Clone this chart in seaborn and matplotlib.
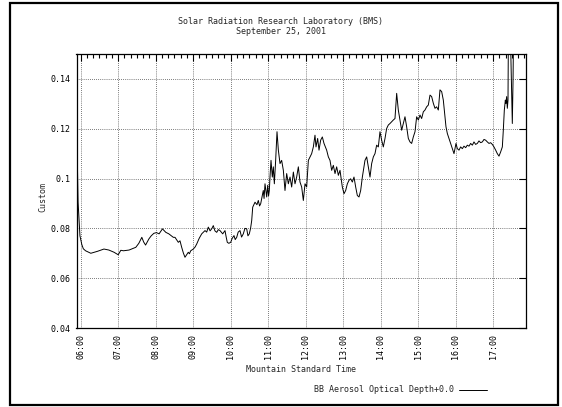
import numpy as np
import pandas as pd
import matplotlib
matplotlib.use("Agg")
import matplotlib.pyplot as plt
import seaborn as sns
from matplotlib.ticker import MultipleLocator, FixedLocator, FuncFormatter
from matplotlib.patches import Rectangle

# time in decimal hours (MST)
hours = [
    5.89, 5.895, 5.90, 5.905, 5.91, 5.915, 5.93, 5.98, 6.03, 6.07,
    6.13, 6.27, 6.45, 6.62, 6.75, 6.89, 7.00, 7.07, 7.14, 7.29,
    7.40, 7.47, 7.55, 7.63, 7.68, 7.73, 7.82, 7.88, 7.95, 8.02,
    8.09, 8.18, 8.27, 8.35, 8.47,
    8.515, 8.603, 8.648, 8.693, 8.74, 8.781, 8.83, 8.869, 8.90, 8.933,
    9.003, 9.05, 9.093, 9.16, 9.227, 9.315, 9.36, 9.403, 9.45, 9.493,
    9.536, 9.58, 9.627, 9.67, 9.715, 9.787, 9.848, 9.88, 9.909, 9.95,
    10.0, 10.04, 10.088, 10.12, 10.16, 10.2, 10.248, 10.29, 10.336, 10.38,
    10.427, 10.46, 10.496, 10.53, 10.56, 10.587, 10.648, 10.70, 10.736, 10.77,
    10.8, 10.84, 10.869, 10.89, 10.915, 10.96, 10.987, 11.01, 11.03, 11.048,
    11.075, 11.11, 11.137, 11.164, 11.199, 11.235, 11.271, 11.315, 11.359, 11.404,
    11.448, 11.493, 11.537, 11.582, 11.626, 11.671, 11.715, 11.759, 11.804, 11.848,
    11.893, 11.937, 11.982, 12.026, 12.071, 12.115, 12.159, 12.204, 12.248, 12.275,
    12.319, 12.355, 12.399, 12.444, 12.488, 12.559, 12.604, 12.648, 12.693, 12.737,
    12.782, 12.826, 12.871, 12.915, 12.977, 13.022, 13.066, 13.111, 13.155, 13.199,
    13.244, 13.288, 13.333, 13.377, 13.422, 13.466, 13.511,
    13.581, 13.626, 13.67, 13.715, 13.759, 13.804, 13.848, 13.892, 13.937, 13.981,
    14.026, 14.07, 14.115, 14.159, 14.204, 14.248, 14.292, 14.337, 14.381, 14.426,
    14.47, 14.515, 14.559, 14.604, 14.648, 14.692, 14.737, 14.781, 14.826, 14.87,
    14.915, 14.959, 15.004, 15.048, 15.092, 15.137, 15.181, 15.226, 15.27, 15.315,
    15.359, 15.404, 15.448, 15.492, 15.537, 15.581, 15.626, 15.67, 15.715, 15.741,
    15.777, 15.821, 15.866, 15.91, 15.955,
    16.008, 16.044, 16.088, 16.132, 16.177, 16.221, 16.266, 16.31, 16.355, 16.399,
    16.444, 16.488, 16.532, 16.577, 16.621, 16.666, 16.71, 16.755, 16.799, 16.844,
    16.888, 16.932, 16.977, 17.021, 17.066, 17.11, 17.155, 17.199, 17.244, 17.27,
    17.297, 17.324, 17.341, 17.359, 17.377, 17.395, 17.41, 17.45, 17.47, 17.51,
    17.53, 17.55,
]

# BB aerosol optical depth
aod = [
    0.160, 0.104, 0.160, 0.120, 0.160, 0.103, 0.0905, 0.0770, 0.0735, 0.0718,
    0.0710, 0.0700, 0.0708, 0.0717, 0.0713, 0.0704, 0.0694, 0.0712, 0.0710, 0.0713,
    0.0720, 0.0724, 0.0740, 0.0764, 0.0745, 0.0733, 0.0758, 0.0770, 0.0780, 0.0783,
    0.0778, 0.0798, 0.0784, 0.0778, 0.0764,
    0.0764, 0.0744, 0.0750, 0.0724, 0.0700, 0.0684, 0.0695, 0.0704, 0.0698, 0.0710,
    0.0717, 0.0725, 0.0737, 0.0760, 0.0778, 0.0791, 0.0785, 0.0805, 0.0790, 0.0798,
    0.0811, 0.0790, 0.0784, 0.0795, 0.0791, 0.0778, 0.0791, 0.0765, 0.0744, 0.0740,
    0.0744, 0.0760, 0.0771, 0.0755, 0.0764, 0.0785, 0.0791, 0.0765, 0.0778, 0.0800,
    0.0798, 0.0770, 0.0778, 0.0800, 0.0831, 0.0885, 0.0905, 0.0895, 0.0912, 0.0890,
    0.0899, 0.0930, 0.0952, 0.0920, 0.0979, 0.0926, 0.0973, 0.0930, 0.0952, 0.1006,
    0.1073, 0.1006, 0.1047, 0.0979, 0.1073, 0.1188, 0.1114, 0.1060, 0.1073, 0.1033,
    0.0952, 0.1020, 0.0979, 0.1006, 0.0966, 0.1026, 0.0979, 0.1006, 0.1047, 0.0986,
    0.0966, 0.0912, 0.0979, 0.0966, 0.1073, 0.1087, 0.1100, 0.1127, 0.1174, 0.1127,
    0.1161, 0.1114, 0.1154, 0.1167, 0.1141, 0.1114, 0.1087, 0.1073, 0.1033, 0.1053,
    0.1020, 0.1047, 0.1013, 0.1033, 0.0966, 0.0939, 0.0952, 0.0979, 0.0993, 0.0999,
    0.0986, 0.1006, 0.0966, 0.0932, 0.0926, 0.0952, 0.1006,
    0.1073, 0.1087, 0.1047, 0.1006, 0.1060, 0.1087, 0.1100, 0.1134, 0.1127, 0.1188,
    0.1154, 0.1127, 0.1161, 0.1201, 0.1215, 0.1221, 0.1228, 0.1235, 0.1241, 0.1342,
    0.1275, 0.1235, 0.1194, 0.1221, 0.1248, 0.1208, 0.1161, 0.1147, 0.1141, 0.1167,
    0.1188, 0.1248, 0.1235, 0.1255, 0.1241, 0.1268, 0.1275, 0.1288, 0.1295, 0.1335,
    0.1329, 0.1302, 0.1282, 0.1288, 0.1275, 0.1356, 0.1349, 0.1315, 0.1248, 0.1208,
    0.1181, 0.1161, 0.1141, 0.1120, 0.1100,
    0.1141, 0.1120, 0.1114, 0.1127, 0.1120, 0.1130, 0.1124, 0.1134, 0.1130, 0.1141,
    0.1134, 0.1147, 0.1137, 0.1141, 0.1151, 0.1144, 0.1147, 0.1157, 0.1154, 0.1147,
    0.1141, 0.1144, 0.1137, 0.1127, 0.1114, 0.1100, 0.1090, 0.1107, 0.1127, 0.1194,
    0.1275, 0.1315, 0.1302, 0.1329, 0.1282, 0.1315, 0.170, 0.170, 0.150, 0.1221,
    0.140, 0.170,
]

hour_ticks = list(range(6, 18))
hour_labels = ["%02d:00" % h for h in hour_ticks]
y_ticks = [0.04, 0.06, 0.08, 0.10, 0.12, 0.14]

df = pd.DataFrame({"hour": hours, "aod": aod})

sns.set_style("white")
plt.rcParams["font.family"] = ["DejaVu Sans Mono"]
plt.rcParams["font.size"] = 6

fig = plt.figure(figsize=(5.62, 4.07), dpi=100)
ax = fig.add_axes([76.5 / 562, 1 - 328 / 407, 449.5 / 562, 274 / 407])

sns.lineplot(data=df, x="hour", y="aod", ax=ax, color="black", lw=0.7,
             estimator=None, label="BB Aerosol Optical Depth+0.0")

ax.set_xlim(5.888, 17.875)
ax.set_ylim(0.04, 0.15)
ax.xaxis.set_major_locator(FixedLocator(hour_ticks))
ax.set_xticklabels(hour_labels, rotation=90)
ax.xaxis.set_minor_locator(MultipleLocator(1 / 6))
ax.yaxis.set_major_locator(FixedLocator(y_ticks))
ax.yaxis.set_major_formatter(FuncFormatter(lambda v, p: "%g" % round(v, 2)))

ax.tick_params(which="both", direction="in", top=True, right=True,
               colors="black", labelsize=6, width=0.8)
ax.tick_params(which="major", length=5, pad=4)
ax.tick_params(which="minor", length=3)
ax.grid(True, which="major", color="black", lw=0.5, ls=(0, (1, 2)))
for s in ax.spines.values():
    s.set_color("black")
    s.set_linewidth(0.9)

ax.set_xlabel("")
ax.set_ylabel("")
fig.text(301 / 562, 1 - 370 / 407, "Mountain Standard Time", ha="center", va="center", fontsize=6)
fig.text(43 / 562, 1 - 197 / 407, "Custom", ha="center", va="center", rotation=90, fontsize=6)
fig.text(0.5, 1 - 21.5 / 407, "Solar Radiation Research Laboratory (BMS)", ha="center", va="center", fontsize=6)
fig.text(0.5, 1 - 31 / 407, "September 25, 2001", ha="center", va="center", fontsize=6)

ax.legend(loc="center right", bbox_to_anchor=(487 / 562, 1 - 390 / 407),
          bbox_transform=fig.transFigure, frameon=False, markerfirst=False,
          handlelength=3.4, handletextpad=0.6, borderpad=0, borderaxespad=0,
          fontsize=6)

fig.patches.append(Rectangle((10 / 562, 2 / 407), 548 / 562, 402 / 407,
                             transform=fig.transFigure, fill=False,
                             ec="black", lw=1.6))

fig.savefig("out.png", dpi=100)
